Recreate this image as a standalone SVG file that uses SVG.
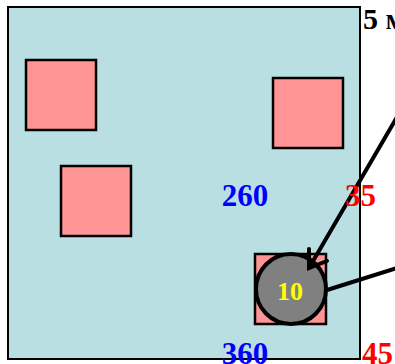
<svg xmlns="http://www.w3.org/2000/svg" width="395" height="364" viewBox="0 0 395 364">
  <style>
    .plate { fill: #b9dfe3; stroke: #000; stroke-width: 2; }
    .pad { fill: #ff9494; stroke: #000; stroke-width: 2.5; }
    .lbl { font-family: "Liberation Serif", "Times New Roman", serif; font-weight: bold; }
    .wire { stroke: #000; stroke-width: 4; fill: none; stroke-linecap: round; }
  </style>
  <rect width="395" height="364" fill="#fff"/>
  <g id="plate">
    <rect class="plate" x="8" y="7" width="352" height="352"/>
  </g>
  <g id="pad1"><rect class="pad" x="26" y="60" width="70" height="70"/></g>
  <g id="pad2"><rect class="pad" x="61" y="166" width="70" height="70"/></g>
  <g id="pad3"><rect class="pad" x="273" y="78" width="70" height="70"/></g>
  <g id="pad4"><rect class="pad" x="255" y="254" width="71" height="70"/></g>
  <g id="probe">
    <circle cx="291" cy="289" r="35" fill="#808080" stroke="#000" stroke-width="4"/>
    <text class="lbl" x="290" y="300" font-size="26" fill="#ffff00" text-anchor="middle">10</text>
  </g>
  <g id="connectors">
    <line class="wire" x1="400" y1="112" x2="309" y2="268"/>
    <polyline class="wire" points="309,249 309,268 327,261"/>
    <line class="wire" x1="327" y1="290" x2="397" y2="268"/>
  </g>
  <g id="labels">
    <text class="lbl" x="363" y="29" font-size="30" fill="#000">5 м</text>
    <text class="lbl" x="245" y="206" font-size="31" fill="#0000ff" text-anchor="middle">260</text>
    <text class="lbl" x="345" y="206" font-size="31" fill="#ff0000">35</text>
    <text class="lbl" x="245" y="364" font-size="31" fill="#0000ff" text-anchor="middle">360</text>
    <text class="lbl" x="362" y="364" font-size="31" fill="#ff0000">45</text>
  </g>
</svg>
